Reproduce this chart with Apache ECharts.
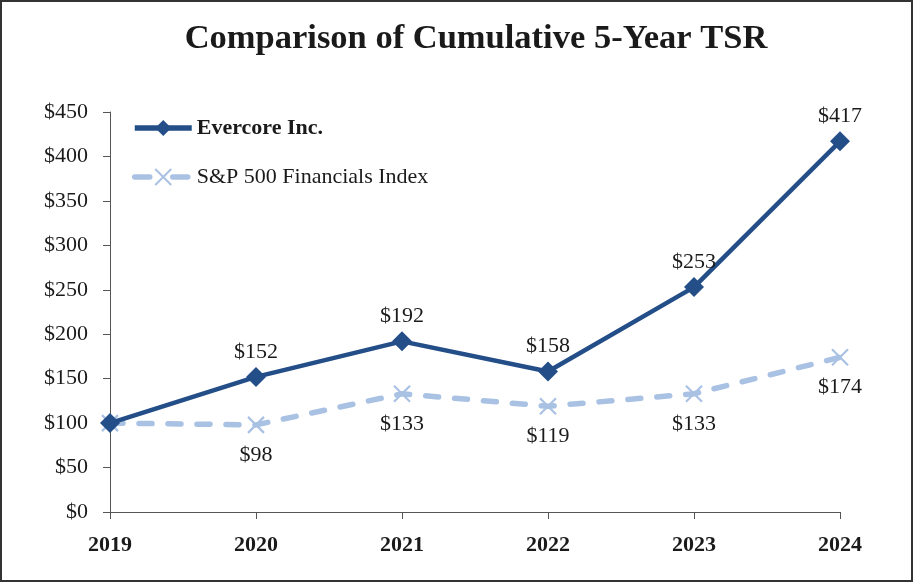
<!DOCTYPE html>
<html><head><meta charset="utf-8">
<script src="https://cdn.jsdelivr.net/npm/echarts@6/dist/echarts.min.js"></script>
<style>html,body{margin:0;padding:0;background:#fff}#c{width:913px;height:582px}</style>
</head><body><div id="c"></div>
<script>
const years = ['2019','2020','2021','2022','2023','2024'];
const evercore = [100, 152, 192, 158, 253, 417];
const spFin = [100, 98, 133, 119, 133, 174];
const titleText = 'Comparison of Cumulative 5-Year TSR';
const serif = '"Liberation Serif","Times New Roman",serif';
const darkBlue = '#234e88';
const lightBlue = '#a9c1e3';
const fs = 22;
const chart = echarts.init(document.getElementById('c'));
function lbl(p){ return p.dataIndex === 0 ? '' : '$' + p.value; }
chart.setOption({
  animation: false,
  backgroundColor: '#fff',
  textStyle: {fontFamily: serif},
  graphic: [
    {type:'rect', shape:{x:1, y:1, width:911, height:580}, style:{fill:'none', stroke:'#333', lineWidth:2}, silent:true},
    {type:'text', x:476, y:39, silent:true, style:{text: titleText, fontFamily: serif, fontSize: 34.5, fontWeight: 'bold', fill: '#1a1a1a', textAlign:'center', textVerticalAlign:'middle'}}
  ],
  legend: {orient: 'vertical', left: 127, top: 112, itemWidth: 57, itemHeight: 20, itemGap: 27,
    textStyle: {fontFamily: serif, fontSize: fs, color: '#1a1a1a', lineHeight: 22},
    data: [
      {name: 'Evercore Inc.', textStyle: {fontWeight: 'bold'}, lineStyle: {width: 5.5}},
      {name: 'S&P 500 Financials Index', lineStyle: {width: 5.5, type: [15, 23], cap: 'round'}}
    ]},
  grid: {left: 110, right: 73, top: 112, bottom: 70, containLabel: false},
  xAxis: {type: 'category', data: years, boundaryGap: false,
    axisLine: {lineStyle: {color: '#555', width: 1}},
    axisTick: {alignWithLabel: true, length: 7, lineStyle: {color: '#555'}},
    axisLabel: {fontFamily: serif, fontSize: fs, fontWeight: 'bold', color: '#1a1a1a', margin: 22}},
  yAxis: {type: 'value', min: 0, max: 450, interval: 50,
    axisLine: {show: true, lineStyle: {color: '#555', width: 1}},
    axisTick: {show: true, length: 7, lineStyle: {color: '#555'}},
    splitLine: {show: false},
    axisLabel: {fontFamily: serif, fontSize: fs, color: '#1a1a1a', margin: 22, formatter: v => '$' + v}},
  series: [
    {name: 'S&P 500 Financials Index', type: 'line', data: spFin, z: 2,
      symbol: 'path://M0,0L10,10M10,0L0,10', symbolSize: 16,
      lineStyle: {color: lightBlue, width: 5.5, type: [13, 16], cap: 'round'},
      itemStyle: {color: 'rgba(0,0,0,0)', borderColor: lightBlue, borderWidth: 2.2},
      label: {show: true, position: 'bottom', distance: 10, formatter: lbl, fontFamily: serif, fontSize: fs, color: '#1a1a1a'}},
    {name: 'Evercore Inc.', type: 'line', data: evercore, z: 3,
      symbol: 'diamond', symbolSize: 20,
      lineStyle: {color: darkBlue, width: 4.5},
      itemStyle: {color: darkBlue},
      label: {show: true, position: 'top', distance: 4, formatter: lbl, fontFamily: serif, fontSize: fs, color: '#1a1a1a'}}
  ]
});
</script></body></html>
